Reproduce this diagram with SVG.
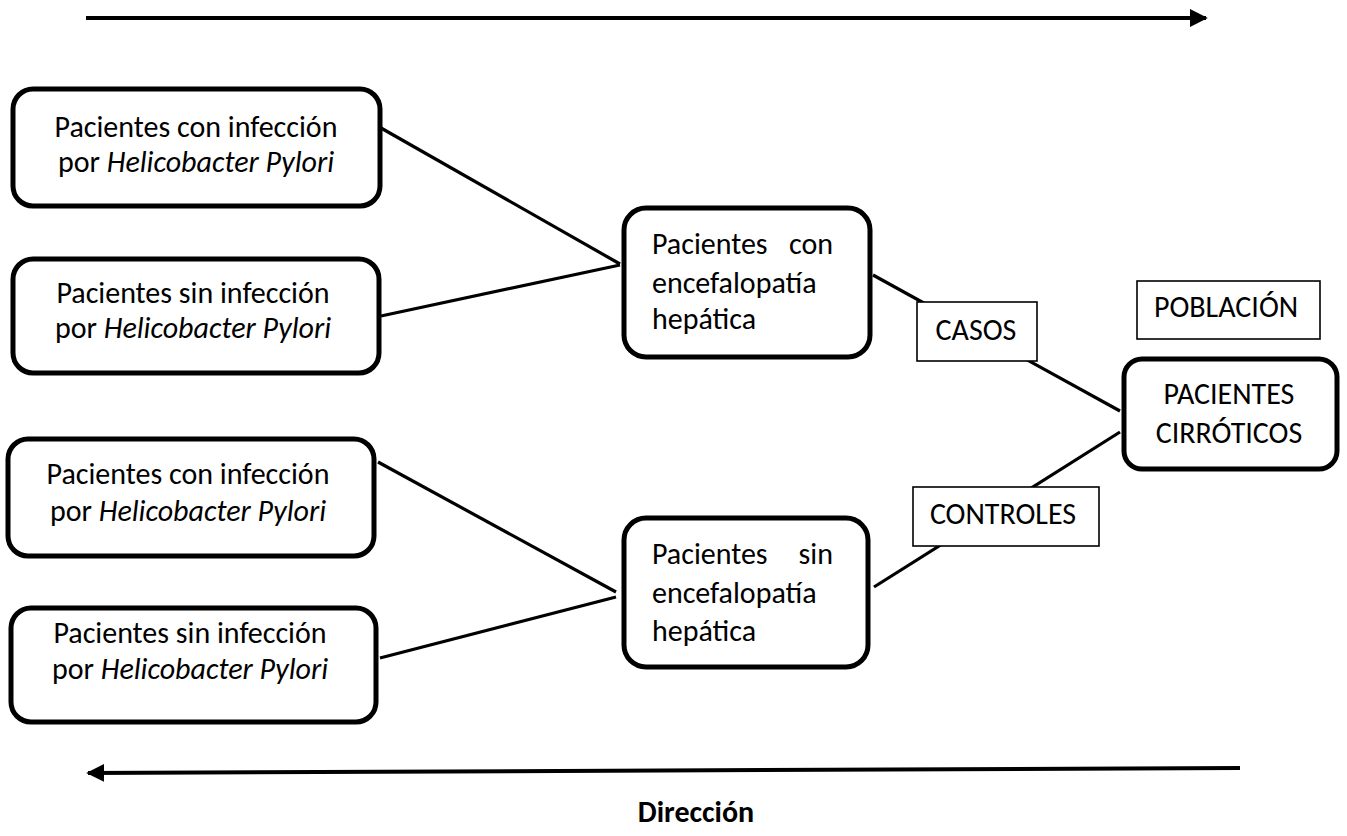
<svg xmlns="http://www.w3.org/2000/svg" width="1347" height="836" viewBox="0 0 1347 836">
<style>
text{font-family:Carlito,Lato,"Liberation Sans",sans-serif;font-size:30px;fill:#000}
.rb{fill:#fff;stroke:#000;stroke-width:5}
.sq{fill:#fff;stroke:#000;stroke-width:1.6}
.ln{stroke:#000;stroke-width:3.2;fill:none}
.ar{stroke:#000;stroke-width:4;fill:none}
.c{text-anchor:middle}
</style>
<defs>
<marker id="ah" viewBox="0 0 10 10" refX="9" refY="5" markerWidth="4.5" markerHeight="5" orient="auto" markerUnits="strokeWidth">
<path d="M0,0 L10,5 L0,10 Z" fill="#000"/>
</marker>
</defs>
<g id="connectors">
<line class="ar" x1="86" y1="18" x2="1206" y2="18" marker-end="url(#ah)"/>
<line class="ar" x1="1240" y1="768" x2="88" y2="773" marker-end="url(#ah)"/>
<line class="ln" x1="381" y1="128" x2="620" y2="264"/>
<line class="ln" x1="381" y1="316" x2="620" y2="265"/>
<line class="ln" x1="378" y1="462" x2="616" y2="592"/>
<line class="ln" x1="380" y1="658" x2="616" y2="597"/>
<line class="ln" x1="873" y1="275" x2="1120" y2="411"/>
<line class="ln" x1="874" y1="587" x2="1120" y2="432"/>
</g>
<g id="n_a1">
<rect class="rb" x="13" y="89" width="367" height="117" rx="20"/>
<text class="c" x="196" y="137">Pacientes con infección</text>
<text class="c" x="196" y="172">por <tspan font-style="italic">Helicobacter Pylori</tspan></text>
</g>
<g id="n_a2">
<rect class="rb" x="13" y="259" width="366" height="114" rx="20"/>
<text class="c" x="193" y="303">Pacientes sin infección</text>
<text class="c" x="193" y="338">por <tspan font-style="italic">Helicobacter Pylori</tspan></text>
</g>
<g id="n_b1">
<rect class="rb" x="624" y="208" width="246" height="149" rx="22"/>
<text x="652" y="254">Pacientes</text>
<text x="833" y="254" text-anchor="end">con</text>
<text x="652" y="293">encefalopatía</text>
<text x="652" y="329">hepática</text>
</g>
<g id="n_casos">
<rect class="sq" x="917" y="302" width="120" height="59"/>
<text class="c" x="976" y="340">CASOS</text>
</g>
<g id="n_poblacion">
<rect class="sq" x="1137" y="281" width="183" height="58"/>
<text class="c" x="1226" y="317">POBLACIÓN</text>
</g>
<g id="n_cirroticos">
<rect class="rb" x="1124" y="359" width="213" height="110" rx="18"/>
<text class="c" x="1229" y="404">PACIENTES</text>
<text class="c" x="1229" y="443">CIRRÓTICOS</text>
</g>
<g id="n_c1">
<rect class="rb" x="8" y="439" width="366" height="117" rx="20"/>
<text class="c" x="188" y="484">Pacientes con infección</text>
<text class="c" x="188" y="521">por <tspan font-style="italic">Helicobacter Pylori</tspan></text>
</g>
<g id="n_c2">
<rect class="rb" x="11" y="608" width="365" height="114" rx="20"/>
<text class="c" x="190" y="643">Pacientes sin infección</text>
<text class="c" x="190" y="679">por <tspan font-style="italic">Helicobacter Pylori</tspan></text>
</g>
<g id="n_d1">
<rect class="rb" x="624" y="518" width="244" height="149" rx="22"/>
<text x="652" y="564">Pacientes</text>
<text x="833" y="564" text-anchor="end">sin</text>
<text x="652" y="603">encefalopatía</text>
<text x="652" y="641">hepática</text>
</g>
<g id="n_controles">
<rect class="sq" x="913" y="487" width="186" height="59"/>
<text class="c" x="1003" y="524">CONTROLES</text>
</g>
<g id="n_direccion">
<text class="c" x="696" y="822" font-weight="bold" font-size="31">Dirección</text>
</g>
</svg>
